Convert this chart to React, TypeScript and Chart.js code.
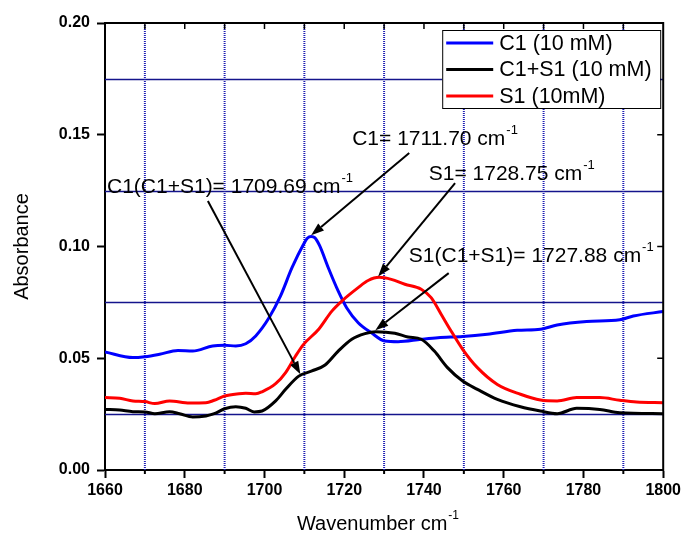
import { useEffect, useRef } from "react";
import { Chart, registerables } from "chart.js";

Chart.register(...registerables);

const FONT = '"Liberation Sans", Arial, Helvetica, sans-serif';

// C1 (10 mM)
const c1Wavenumber = [1660, 1667, 1670, 1673.7, 1678.3, 1682, 1687, 1690, 1692.8, 1695.3, 1697.8, 1701.1, 1704, 1706.9, 1709.8, 1710.8, 1711.7, 1712.6, 1713.8, 1716, 1718.5, 1720.6, 1723.5, 1726.8, 1730.2, 1733.5, 1739.3, 1743.5, 1749.7, 1755.9, 1763.4, 1769.2, 1773.4, 1780.8, 1789.1, 1792.5, 1800];
const c1Absorbance = [0.0528, 0.0503, 0.0507, 0.0518, 0.0535, 0.0532, 0.0555, 0.0558, 0.0555, 0.0565, 0.060, 0.068, 0.0778, 0.0905, 0.101, 0.1038, 0.1045, 0.104, 0.1005, 0.0905, 0.080, 0.0726, 0.0659, 0.0614, 0.0577, 0.0574, 0.0585, 0.0592, 0.0597, 0.0607, 0.0625, 0.063, 0.0649, 0.0664, 0.0672, 0.0689, 0.0709];

// C1+S1 (10 mM)
const c1s1Wavenumber = [1660, 1663.7, 1667, 1670, 1672.5, 1676.2, 1678.7, 1682, 1685.3, 1687.4, 1690, 1692.8, 1695.3, 1697.4, 1699.4, 1702.8, 1705.3, 1708.6, 1711.9, 1715.2, 1718.5, 1721.9, 1725.2, 1727.9, 1732.7, 1736, 1739.3, 1742.6, 1745.9, 1749.7, 1753.4, 1758.4, 1764.2, 1769.2, 1773.4, 1778.3, 1784.1, 1789.1, 1800];
const c1s1Absorbance = [0.0271, 0.0268, 0.0261, 0.026, 0.0252, 0.0261, 0.0252, 0.0237, 0.0242, 0.0252, 0.0274, 0.0283, 0.0276, 0.026, 0.0264, 0.0309, 0.0361, 0.042, 0.0443, 0.047, 0.0532, 0.0585, 0.061, 0.0619, 0.0612, 0.0595, 0.0585, 0.0532, 0.0458, 0.0398, 0.0361, 0.0316, 0.0283, 0.0264, 0.0252, 0.0276, 0.0271, 0.0256, 0.0252];

// S1 (10mM)
const s1Wavenumber = [1660, 1663.7, 1667, 1670, 1672.5, 1676.2, 1681.2, 1685.3, 1687.4, 1690, 1693.6, 1695.3, 1697.8, 1699.4, 1702.8, 1705.3, 1707.8, 1709.8, 1713.6, 1716.9, 1719.4, 1723.5, 1726, 1728.75, 1731.8, 1735.2, 1739.3, 1741.8, 1744.3, 1746.8, 1749.7, 1753.4, 1758.4, 1764.2, 1769.2, 1773.4, 1778.3, 1784.1, 1789.1, 1793.3, 1800];
const s1Absorbance = [0.0324, 0.0321, 0.0309, 0.0306, 0.0297, 0.0309, 0.030, 0.0301, 0.0312, 0.0331, 0.0341, 0.0343, 0.0341, 0.035, 0.0386, 0.0436, 0.051, 0.0562, 0.063, 0.0711, 0.0756, 0.0816, 0.0848, 0.0862, 0.0853, 0.0831, 0.0809, 0.0771, 0.0697, 0.0622, 0.054, 0.0458, 0.0383, 0.0339, 0.0313, 0.0309, 0.0324, 0.0324, 0.0312, 0.0304, 0.0301];

const seriesNames = ["C1 (10 mM)", "C1+S1 (10 mM)", "S1 (10mM)"];
const seriesColors = ["#0000ff", "#000000", "#ff0000"];

// axis range and ticks
const xMin = 1660;
const xMax = 1800;
const xStep = 20;
const yMin = 0;
const yMax = 0.2;
const yStep = 0.05;
const xGridValues = [1670, 1690, 1710, 1730, 1750, 1770, 1790];
const yGridValues = [0.025, 0.075, 0.125, 0.175];

// peak call-outs: label anchor, arrow tail and arrow tip (data units)
const peakNotes = [
  { prefix: "C1= ", peak: "1711.70", label: [1722, 0.1478], tail: [1736.3, 0.1418], tip: [1711.7, 0.1050] },
  { prefix: "S1= ", peak: "1728.75", label: [1741.2, 0.1324], tail: [1747.8, 0.1284], tip: [1728.5, 0.0866] },
  { prefix: "C1(C1+S1)= ", peak: "1709.69", label: [1660.5, 0.1266], tail: [1685.8, 0.1204], tip: [1709.0, 0.0428] },
  { prefix: "S1(C1+S1)= ", peak: "1727.88", label: [1736.2, 0.0957], tail: [1746.2, 0.0881], tip: [1727.8, 0.0625] },
];

function toPoints(xs: number[], ys: number[]) {
  return xs.map((x, i) => ({ x, y: ys[i] }));
}

function drawWithSuperscript(ctx: CanvasRenderingContext2D, text: string, x: number, y: number, size: number) {
  ctx.font = `${size}px ${FONT}`;
  ctx.textBaseline = "middle";
  ctx.textAlign = "left";
  ctx.fillText(text, x, y);
  const w = ctx.measureText(text).width;
  ctx.font = `${Math.round(size * 0.62)}px ${FONT}`;
  ctx.fillText("-1", x + w + 1, y - size * 0.42);
}

const decorPlugin = {
  id: "decor",
  beforeDatasetsDraw(chart: any) {
    const { ctx, chartArea: a, scales } = chart;
    const xs = scales.x;
    const ys = scales.y;
    ctx.save();
    // horizontal grid: solid navy
    ctx.strokeStyle = "#14148c";
    ctx.lineWidth = 1.3;
    for (const v of yGridValues) {
      const py = Math.round(ys.getPixelForValue(v)) + 0.5;
      ctx.beginPath();
      ctx.moveTo(a.left, py);
      ctx.lineTo(a.right, py);
      ctx.stroke();
    }
    // vertical grid: dotted blue
    ctx.strokeStyle = "#1e1eb4";
    ctx.lineWidth = 2;
    ctx.setLineDash([1, 1]);
    for (const v of xGridValues) {
      const px = xs.getPixelForValue(v);
      ctx.beginPath();
      ctx.moveTo(px, a.top);
      ctx.lineTo(px, a.bottom);
      ctx.stroke();
    }
    ctx.restore();
  },
  afterDatasetsDraw(chart: any) {
    const { ctx, chartArea: a, scales } = chart;
    const xs = scales.x;
    const ys = scales.y;
    ctx.save();

    // top and right frame with inward ticks
    ctx.strokeStyle = "#000";
    ctx.lineWidth = 2;
    ctx.beginPath();
    ctx.moveTo(a.left - 1, a.top);
    ctx.lineTo(a.right, a.top);
    ctx.lineTo(a.right, a.bottom + 1);
    ctx.stroke();
    ctx.lineWidth = 1.5;
    for (let v = xMin + 10; v < xMax; v += 10) {
      const px = xs.getPixelForValue(v);
      ctx.beginPath();
      ctx.moveTo(px, a.top);
      ctx.lineTo(px, a.top + 6);
      ctx.stroke();
    }
    for (let v = yMin + yStep; v < yMax - 1e-9; v += yStep) {
      const py = ys.getPixelForValue(v);
      ctx.beginPath();
      ctx.moveTo(a.right, py);
      ctx.lineTo(a.right - 6, py);
      ctx.stroke();
    }
    // minor outward ticks on the bottom axis
    ctx.lineWidth = 2;
    for (const v of xGridValues) {
      const px = xs.getPixelForValue(v);
      ctx.beginPath();
      ctx.moveTo(px, a.bottom);
      ctx.lineTo(px, a.bottom + 4);
      ctx.stroke();
    }

    // call-outs
    ctx.fillStyle = "#000";
    ctx.strokeStyle = "#000";
    for (const n of peakNotes) {
      const tx = xs.getPixelForValue(n.tail[0]);
      const ty = ys.getPixelForValue(n.tail[1]);
      const hx = xs.getPixelForValue(n.tip[0]);
      const hy = ys.getPixelForValue(n.tip[1]);
      const ang = Math.atan2(hy - ty, hx - tx);
      const headLen = 13;
      const headHalf = 4.5;
      const bx = hx - headLen * Math.cos(ang);
      const by = hy - headLen * Math.sin(ang);
      ctx.lineWidth = 2;
      ctx.beginPath();
      ctx.moveTo(tx, ty);
      ctx.lineTo(bx, by);
      ctx.stroke();
      ctx.beginPath();
      ctx.moveTo(hx, hy);
      ctx.lineTo(bx + headHalf * Math.sin(ang), by - headHalf * Math.cos(ang));
      ctx.lineTo(bx - headHalf * Math.sin(ang), by + headHalf * Math.cos(ang));
      ctx.closePath();
      ctx.fill();

      const lx = xs.getPixelForValue(n.label[0]);
      const ly = ys.getPixelForValue(n.label[1]);
      drawWithSuperscript(ctx, `${n.prefix}${n.peak} cm`, lx, ly, 21);
    }

    // legend box
    const bw = 218;
    const bh = 78;
    const bx0 = a.right - bw - 3;
    const by0 = a.top + 7;
    ctx.fillStyle = "#fff";
    ctx.fillRect(bx0, by0, bw, bh);
    ctx.strokeStyle = "#000";
    ctx.lineWidth = 1;
    ctx.strokeRect(bx0 + 0.5, by0 + 0.5, bw, bh);
    seriesNames.forEach((name, i) => {
      const ry = by0 + 13 + i * 26.5;
      ctx.strokeStyle = seriesColors[i];
      ctx.lineWidth = 3;
      ctx.beginPath();
      ctx.moveTo(bx0 + 4, ry);
      ctx.lineTo(bx0 + 51, ry);
      ctx.stroke();
      ctx.fillStyle = "#000";
      ctx.font = `21.5px ${FONT}`;
      ctx.textBaseline = "middle";
      ctx.textAlign = "left";
      ctx.fillText(name, bx0 + 57, ry + 1);
    });

    // axis titles
    ctx.fillStyle = "#000";
    ctx.save();
    ctx.translate(22, (a.top + a.bottom) / 2);
    ctx.rotate(-Math.PI / 2);
    ctx.font = `20px ${FONT}`;
    ctx.textAlign = "center";
    ctx.textBaseline = "middle";
    ctx.fillText("Absorbance", 0, 0);
    ctx.restore();

    ctx.font = `20px ${FONT}`;
    const xt = "Wavenumber cm";
    const xtw = ctx.measureText(xt).width;
    drawWithSuperscript(ctx, xt, (a.left + a.right) / 2 - 12 - xtw / 2, 524, 20);

    ctx.restore();
  },
};

export default function App() {
  const canvasRef = useRef<HTMLCanvasElement | null>(null);

  useEffect(() => {
    const canvas = canvasRef.current;
    if (!canvas) return;
    const tickFont = { family: FONT, size: 16, weight: "bold" as const };
    const chart = new Chart(canvas, {
      type: "line",
      data: {
        datasets: [
          { label: seriesNames[0], data: toPoints(c1Wavenumber, c1Absorbance), borderColor: seriesColors[0], order: 3 },
          { label: seriesNames[1], data: toPoints(c1s1Wavenumber, c1s1Absorbance), borderColor: seriesColors[1], order: 2 },
          { label: seriesNames[2], data: toPoints(s1Wavenumber, s1Absorbance), borderColor: seriesColors[2], order: 1 },
        ],
      },
      options: {
        animation: false,
        responsive: false,
        devicePixelRatio: 1,
        layout: { padding: { top: 23, right: 19, left: 0, bottom: 0 } },
        elements: {
          line: { borderWidth: 3, cubicInterpolationMode: "monotone", fill: false },
          point: { radius: 0, hoverRadius: 0 },
        },
        plugins: { legend: { display: false }, tooltip: { enabled: false }, title: { display: false } },
        events: [],
        scales: {
          x: {
            type: "linear",
            min: xMin,
            max: xMax,
            ticks: {
              stepSize: xStep,
              color: "#000",
              font: tickFont,
              padding: 3,
              maxRotation: 0,
              callback: (v: any) => String(Math.round(Number(v))),
            },
            grid: { drawOnChartArea: false, drawTicks: true, tickLength: 8, tickWidth: 2, tickColor: "#000", color: "#000" },
            border: { display: true, color: "#000", width: 2 },
            afterFit: (s: any) => { s.height = 69; },
          },
          y: {
            type: "linear",
            min: yMin,
            max: yMax,
            ticks: {
              stepSize: yStep,
              color: "#000",
              font: tickFont,
              padding: 7,
              callback: (v: any) => Number(v).toFixed(2),
            },
            grid: { drawOnChartArea: false, drawTicks: true, tickLength: 8, tickWidth: 2, tickColor: "#000", color: "#000" },
            border: { display: true, color: "#000", width: 2 },
            afterFit: (s: any) => { s.width = 105; },
          },
        },
      },
      plugins: [decorPlugin],
    });
    return () => chart.destroy();
  }, []);

  return (
    <div style={{ position: "fixed", left: 0, top: 0, width: 684, height: 539, background: "#fff" }}>
      <canvas ref={canvasRef} width={684} height={539} />
    </div>
  );
}
